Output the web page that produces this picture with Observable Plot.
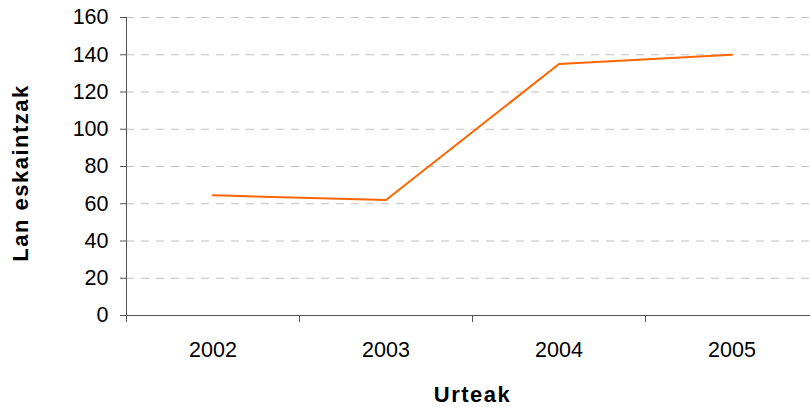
<!DOCTYPE html>
<html>
<head>
<meta charset="utf-8">
<script src="https://cdn.jsdelivr.net/npm/d3@7"></script>
<script src="https://cdn.jsdelivr.net/npm/@observablehq/plot@0.6"></script>
<style>
  html, body { margin: 0; padding: 0; background: #fff; }
  svg { font-family: "Liberation Sans", Arial, sans-serif; }
  g[aria-label="text"] { letter-spacing: 1.5px; }
</style>
</head>
<body>
<div id="chart"></div>
<script>
const years = [2002, 2003, 2004, 2005];
const values = [64.5, 62, 135, 140];
const yTicks = [0, 20, 40, 60, 80, 100, 120, 140, 160];
const gridTicks = [20, 40, 60, 80, 100, 120, 140, 160];
const xBoundaries = [2001.5, 2002.5, 2003.5, 2004.5];
const xTitle = "Urteak";
const yTitle = "Lan eskaintzak";

const data = years.map((y, i) => ({year: y, value: values[i]}));

const chart = Plot.plot({
  width: 810,
  height: 407,
  marginLeft: 126,
  marginRight: 0,
  marginTop: 17,
  marginBottom: 92,
  style: {fontSize: "21.5px", fontFamily: "Liberation Sans, Arial, sans-serif", color: "#000", background: "#fff"},
  x: {domain: [2001.5, 2005.5], range: [126, 818]},
  y: {domain: [0, 160]},
  marks: [
    Plot.gridY(gridTicks, {stroke: "#c0c0c0", strokeOpacity: 1, strokeDasharray: "8,7", strokeWidth: 1}),
    Plot.axisY({ticks: yTicks, tickSize: 6, tickPadding: 12, tickFormat: d => String(d), label: null, stroke: "#555", fill: "#000"}),
    Plot.axisX({ticks: xBoundaries, tickSize: 7, tickFormat: () => "", label: null, stroke: "#555"}),
    Plot.axisX({ticks: years, tickSize: 0, tickPadding: 26, tickFormat: d => String(d), label: null, fill: "#000"}),
    Plot.ruleY([0], {stroke: "#555", strokeWidth: 1}),
    Plot.ruleX([2001.5], {y1: 0, y2: 160, stroke: "#555", strokeWidth: 1}),
    Plot.line(data, {x: "year", y: "value", stroke: "#FF6600", strokeWidth: 2}),
    Plot.text([xTitle], {frameAnchor: "bottom", x: 2003.5, text: d => d, dy: 79.5, lineAnchor: "middle", textAnchor: "middle", fontWeight: "bold", fontSize: 22, fill: "#000"}),
    Plot.text([yTitle], {frameAnchor: "left", text: d => d, rotate: -90, dx: -106, dy: 6.5, lineAnchor: "middle", textAnchor: "middle", fontWeight: "bold", fontSize: 22, fill: "#000"})
  ]
});
document.getElementById("chart").appendChild(chart);
</script>
</body>
</html>
